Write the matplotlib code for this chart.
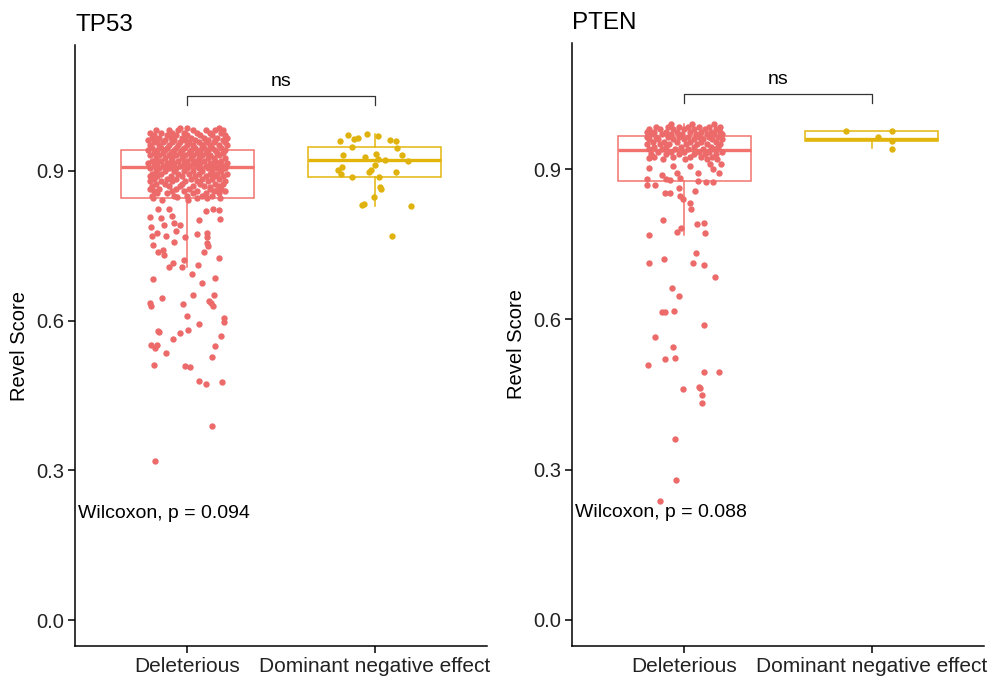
import matplotlib
matplotlib.use("Agg")
import matplotlib.pyplot as plt
import numpy as np

plt.rcParams['font.family'] = ['Liberation Sans', 'DejaVu Sans']

categories = ["Deleterious", "Dominant negative effect"]
genes = ["TP53", "PTEN"]
pvalues = ["Wilcoxon, p = 0.094", "Wilcoxon, p = 0.088"]
yticks = [0.0, 0.3, 0.6, 0.9]
ytick_labels = ["0.0", "0.3", "0.6", "0.9"]

# ---- TP53 Deleterious: dense upper cluster (value -> jitter offsets) ----
tp53_del_rows = {
    0.986: [-0.04, 0.0, 0.17],
    0.981: [-0.17, -0.10, -0.05, 0.03, 0.10, 0.15, 0.19],
    0.976: [-0.20, -0.14, -0.08, -0.02, 0.05, 0.12, 0.18],
    0.971: [-0.18, -0.11, -0.06, 0.0, 0.07, 0.13, 0.20],
    0.966: [-0.19, -0.15, -0.09, -0.03, 0.02, 0.09, 0.16, 0.21],
    0.961: [-0.21, -0.16, -0.12, -0.07, -0.01, 0.04, 0.11, 0.15, 0.19],
    0.957: [-0.18, -0.13, -0.08, -0.04, 0.01, 0.06, 0.10, 0.14, 0.20],
    0.952: [-0.20, -0.15, -0.10, -0.05, 0.0, 0.03, 0.08, 0.12, 0.17, 0.21],
    0.946: [-0.19, -0.14, -0.11, -0.06, -0.02, 0.04, 0.09, 0.13, 0.18],
    0.941: [-0.21, -0.16, -0.12, -0.07, -0.03, 0.02, 0.07, 0.11, 0.15, 0.20],
    0.936: [-0.18, -0.13, -0.09, -0.04, 0.01, 0.05, 0.10, 0.16, 0.19],
    0.931: [-0.20, -0.15, -0.10, -0.06, -0.01, 0.03, 0.08, 0.12, 0.17],
    0.925: [-0.17, -0.12, -0.08, -0.03, 0.02, 0.06, 0.11, 0.14, 0.20],
    0.920: [-0.19, -0.14, -0.09, -0.05, 0.0, 0.04, 0.09, 0.15, 0.18],
    0.915: [-0.21, -0.16, -0.11, -0.07, -0.02, 0.03, 0.07, 0.12, 0.17, 0.21],
    0.910: [-0.18, -0.13, -0.08, -0.04, 0.01, 0.05, 0.10, 0.14, 0.19],
    0.905: [-0.20, -0.15, -0.10, -0.06, 0.0, 0.06, 0.11, 0.16, 0.20],
    0.899: [-0.17, -0.12, -0.07, -0.02, 0.03, 0.08, 0.13, 0.18],
    0.894: [-0.19, -0.14, -0.05, 0.01, 0.06, 0.12, 0.16, 0.21],
    0.889: [-0.20, -0.16, -0.09, -0.03, 0.04, 0.10, 0.14, 0.19],
    0.884: [-0.18, -0.11, -0.06, 0.02, 0.08, 0.13, 0.17],
    0.879: [-0.20, -0.14, -0.08, -0.01, 0.05, 0.11, 0.20],
    0.874: [-0.17, -0.12, -0.03, 0.07, 0.15, 0.19],
    0.869: [-0.19, -0.10, -0.04, 0.03, 0.09, 0.17],
    0.864: [-0.20, -0.15, -0.06, 0.01, 0.12, 0.18],
    0.859: [-0.18, -0.08, -0.02, 0.05, 0.14, 0.20],
    0.855: [-0.16, -0.11, 0.03, 0.10, 0.17],
    0.850: [-0.19, -0.07, 0.0, 0.08, 0.13],
}
# ---- TP53 Deleterious: sparse lower points (offset, value) ----
tp53_del_tail = [
    (-0.182, 0.846), (-0.134, 0.842), (-0.053, 0.848), (0.005, 0.842), (0.053, 0.846),
    (0.107, 0.846), (0.176, 0.846), (0.160, 0.862), (0.123, 0.868),
    (-0.198, 0.808), (-0.155, 0.824), (-0.096, 0.824), (-0.139, 0.806), (-0.080, 0.810),
    (-0.070, 0.796), (-0.193, 0.788), (-0.037, 0.792), (0.064, 0.802), (0.102, 0.820),
    (0.139, 0.824), (0.171, 0.822), (0.176, 0.804), (-0.123, 0.792),
    (-0.187, 0.770), (-0.160, 0.776), (-0.112, 0.770), (-0.059, 0.780), (-0.011, 0.768),
    (0.053, 0.774), (0.107, 0.776), (0.107, 0.768), (-0.182, 0.752), (-0.070, 0.758),
    (0.107, 0.756), (0.112, 0.750), (-0.155, 0.737), (-0.128, 0.741), (-0.123, 0.731),
    (0.091, 0.737), (0.171, 0.725), (-0.075, 0.715), (-0.096, 0.707), (-0.027, 0.707),
    (-0.016, 0.721), (0.059, 0.711), (-0.182, 0.683), (0.027, 0.693), (0.080, 0.675),
    (0.150, 0.685), (-0.134, 0.645), (-0.198, 0.635), (-0.193, 0.629), (-0.021, 0.633),
    (0.032, 0.651), (0.118, 0.639), (0.128, 0.635), (0.139, 0.629), (0.144, 0.651),
    (0.0, 0.609), (0.064, 0.593), (0.193, 0.597), (0.198, 0.605), (-0.155, 0.579),
    (-0.150, 0.577), (-0.075, 0.563), (-0.037, 0.575), (0.005, 0.581), (0.182, 0.569),
    (-0.193, 0.551), (-0.171, 0.545), (-0.160, 0.551), (-0.112, 0.535), (0.150, 0.549),
    (0.134, 0.527), (-0.176, 0.511), (-0.011, 0.509), (0.016, 0.507), (0.064, 0.479),
    (0.102, 0.473), (0.187, 0.477), (0.134, 0.389), (-0.171, 0.319),
]
# ---- TP53 Dominant negative effect (offset, value) ----
tp53_dne = [
    (-0.187, 0.960), (-0.144, 0.972), (-0.112, 0.964), (-0.091, 0.966), (-0.043, 0.974),
    (0.016, 0.970), (0.080, 0.962), (0.112, 0.960), (-0.123, 0.948), (0.118, 0.946),
    (-0.171, 0.932), (0.005, 0.934), (-0.053, 0.928), (0.016, 0.924), (0.053, 0.922),
    (0.144, 0.932), (0.176, 0.920), (-0.176, 0.908), (-0.193, 0.902), (-0.182, 0.894),
    (0.0, 0.912), (-0.021, 0.902), (-0.032, 0.898), (0.112, 0.898), (-0.123, 0.888),
    (0.021, 0.888), (0.027, 0.868), (0.032, 0.864), (-0.005, 0.848), (-0.070, 0.832),
    (-0.059, 0.834), (0.193, 0.830), (0.091, 0.770),
]
# ---- PTEN Deleterious: dense upper cluster ----
pten_del_rows = {
    0.990: [-0.07, 0.04, 0.16],
    0.985: [-0.15, -0.09, -0.03, 0.02, 0.08, 0.13, 0.19],
    0.980: [-0.19, -0.13, -0.06, 0.0, 0.05, 0.11, 0.17],
    0.975: [-0.20, -0.16, -0.10, -0.04, 0.03, 0.09, 0.14, 0.19],
    0.970: [-0.18, -0.12, -0.07, -0.01, 0.06, 0.12, 0.16, 0.20],
    0.965: [-0.20, -0.15, -0.09, -0.03, 0.02, 0.08, 0.13, 0.18],
    0.960: [-0.19, -0.14, -0.06, 0.0, 0.05, 0.10, 0.15, 0.20],
    0.955: [-0.17, -0.11, -0.04, 0.03, 0.09, 0.17],
    0.950: [-0.20, -0.13, -0.08, 0.01, 0.07, 0.12, 0.19],
    0.945: [-0.16, -0.10, -0.02, 0.05, 0.14, 0.18],
    0.940: [-0.19, -0.12, -0.05, 0.02, 0.10, 0.16],
    0.935: [-0.14, -0.07, 0.0, 0.08, 0.13, 0.20],
    0.930: [-0.18, -0.10, -0.03, 0.05, 0.11, 0.17],
    0.925: [-0.16, -0.06, 0.03, 0.09, 0.15],
}
pten_del_tail = [
    (-0.187, 0.922), (-0.112, 0.920), (0.005, 0.920), (0.123, 0.920), (0.176, 0.920),
    (0.193, 0.910), (0.139, 0.910), (-0.059, 0.906), (0.032, 0.906),
    (-0.187, 0.902), (-0.118, 0.888), (-0.096, 0.880), (-0.075, 0.878), (-0.037, 0.892),
    (-0.021, 0.882), (0.075, 0.892), (0.155, 0.900), (0.187, 0.892), (0.155, 0.874),
    (0.118, 0.874), (-0.198, 0.880), (-0.198, 0.868), (-0.155, 0.868), (-0.102, 0.852),
    (-0.075, 0.852), (-0.027, 0.862), (0.059, 0.856), (0.075, 0.876), (-0.021, 0.846),
    (-0.005, 0.840), (0.032, 0.832), (0.037, 0.820), (-0.112, 0.798), (0.070, 0.790),
    (0.107, 0.792), (-0.016, 0.782),
    (-0.187, 0.768), (-0.037, 0.774), (0.112, 0.772), (0.064, 0.733), (-0.187, 0.713),
    (-0.107, 0.721), (0.048, 0.713), (0.107, 0.709), (0.166, 0.685), (-0.064, 0.663),
    (-0.027, 0.647), (-0.118, 0.615), (-0.102, 0.615), (-0.053, 0.617), (0.107, 0.589),
    (-0.155, 0.565), (-0.059, 0.545), (-0.102, 0.521), (-0.048, 0.523), (-0.193, 0.509),
    (0.107, 0.495), (0.187, 0.495), (-0.005, 0.461), (0.080, 0.465), (0.086, 0.463),
    (0.096, 0.449), (0.096, 0.433), (-0.048, 0.361), (-0.043, 0.279), (-0.128, 0.238),
]
pten_dne = [
    (-0.139, 0.976), (0.107, 0.976), (0.032, 0.964), (0.107, 0.956), (0.107, 0.940),
]

# box statistics (whislo, q1, med, q3, whishi)
tp53_box = [(0.707, 0.846, 0.908, 0.942, 0.985), (0.830, 0.888, 0.922, 0.948, 0.974)]
pten_box = [(0.768, 0.876, 0.938, 0.966, 0.990), (0.942, 0.957, 0.960, 0.977, 0.977)]

box_colors = ["#F2736E", "#E3B50A"]
pt_colors = ["#EC6A6A", "#E0B20E"]


def expand(rows, tail):
    offs, vals = [], []
    for v, lst in rows.items():
        for o in lst:
            offs.append(o)
            vals.append(v)
    for o, v in tail:
        offs.append(o)
        vals.append(v)
    return np.array(offs), np.array(vals)


panels = [
    (genes[0], [expand(tp53_del_rows, tp53_del_tail), expand({}, tp53_dne)], tp53_box, pvalues[0]),
    (genes[1], [expand(pten_del_rows, pten_del_tail), expand({}, pten_dne)], pten_box, pvalues[1]),
]

fig = plt.figure(figsize=(9.95, 6.76), dpi=100)
axes_rects = [[0.0754, 0.0444, 0.4140, 0.8890], [0.5749, 0.0444, 0.4140, 0.8920]]

for rect, (gene, groups, boxes, ptxt) in zip(axes_rects, panels):
    ax = fig.add_axes(rect)
    for i, (st, col) in enumerate(zip(boxes, box_colors)):
        stats = [dict(whislo=st[0], q1=st[1], med=st[2], q3=st[3], whishi=st[4], fliers=[])]
        ax.bxp(stats, positions=[i + 1], widths=0.71, showfliers=False, showcaps=False,
               patch_artist=True,
               boxprops=dict(facecolor="white", edgecolor=col, linewidth=1.1),
               medianprops=dict(color=col, linewidth=2.4, solid_capstyle="butt"),
               whiskerprops=dict(color=col, linewidth=1.1), zorder=2)
    for i, ((offs, vals), col) in enumerate(zip(groups, pt_colors)):
        ax.scatter(i + 1 + offs, vals, s=21, color=col, linewidths=0, zorder=3)

    ax.set_xlim(0.4, 2.6)
    ax.set_ylim(-0.052, 1.152)
    ax.set_xticks([1, 2])
    ax.set_xticklabels(categories, fontsize=15, color="#222222")
    ax.set_yticks(yticks)
    ax.set_yticklabels(ytick_labels, fontsize=14.5, color="#222222")
    ax.set_ylabel("Revel Score", fontsize=14.5, labelpad=5)
    for s in ["top", "right"]:
        ax.spines[s].set_visible(False)
    for s in ["left", "bottom"]:
        ax.spines[s].set_linewidth(1.1)
    ax.tick_params(direction="out", length=5, width=1.1, pad=3)
    ax.set_title(gene, loc="left", fontsize=17.5, pad=10)

    # significance bracket
    ax.plot([1, 1, 2, 2], [1.032, 1.050, 1.050, 1.032], color="#333333", linewidth=0.9)
    ax.text(1.5, 1.062, "ns", ha="center", va="bottom", fontsize=14)
    ax.text(0.415, 0.214, ptxt, ha="left", va="center", fontsize=14)

fig.savefig("out.png", dpi=100)
